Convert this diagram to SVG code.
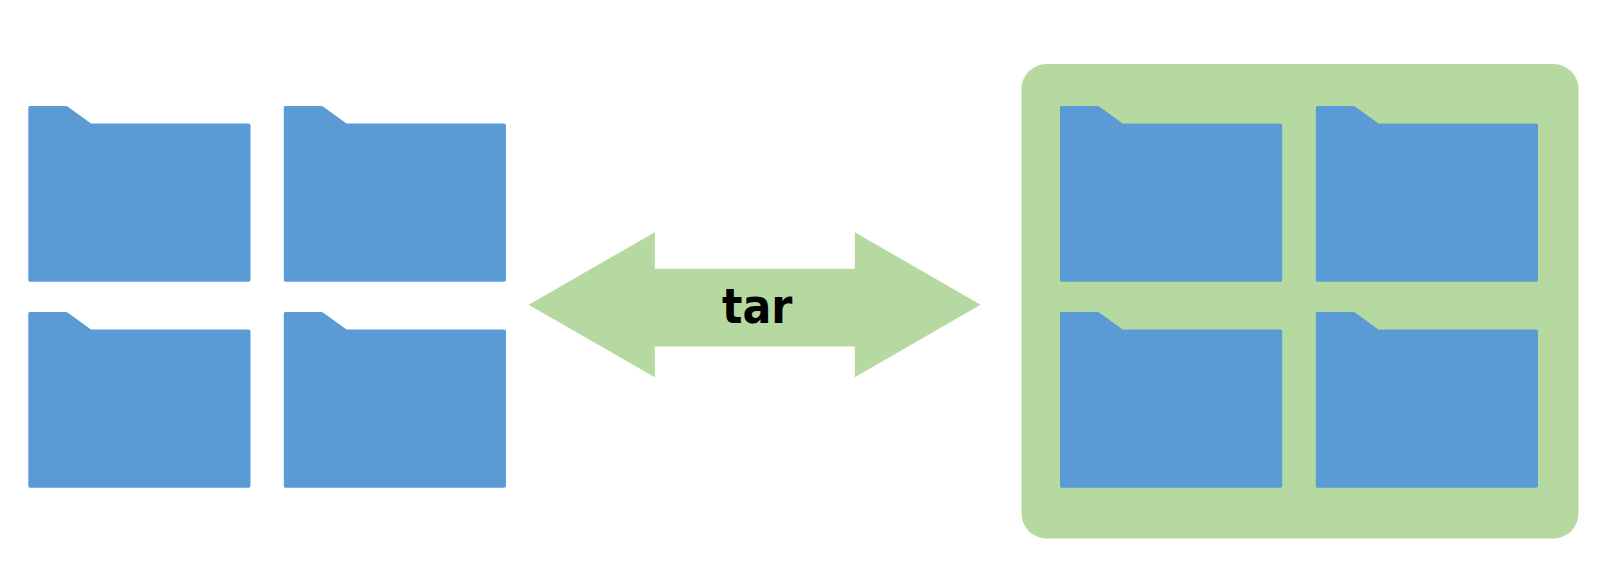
<svg xmlns="http://www.w3.org/2000/svg" xmlns:xlink="http://www.w3.org/1999/xlink" width="1600" height="582" viewBox="0 0 1600 582">
<style>
.folder{fill:#5b9bd5}
.green{fill:#b6d9a1}
.label{font-family:"DejaVu Sans",sans-serif;font-stretch:condensed;font-weight:700;font-size:47.500px;fill:#000}
</style>
<defs>
<path id="f" d="M29.800 106H65.500Q66.700 106 67.500 106.600L91 123.400H248.500Q250.500 123.400 250.500 125.400V279.700Q250.500 281.700 248.500 281.700H29.800Q28.300 281.700 28.300 279.700V107.500Q28.300 106 29.800 106Z"/>
</defs>
<rect width="1600" height="582" fill="#fff"/>
<g id="archive"><rect class="green" x="1021.500" y="64" width="557" height="474.500" rx="25" ry="25"/></g>
<g id="folder-1"><use class="folder" xlink:href="#f" href="#f"/></g>
<g id="folder-2"><use class="folder" xlink:href="#f" href="#f" x="255.500"/></g>
<g id="folder-3"><use class="folder" xlink:href="#f" href="#f" y="206"/></g>
<g id="folder-4"><use class="folder" xlink:href="#f" href="#f" x="255.500" y="206"/></g>
<g id="folder-5"><use class="folder" xlink:href="#f" href="#f" x="1031.700"/></g>
<g id="folder-6"><use class="folder" xlink:href="#f" href="#f" x="1287.500"/></g>
<g id="folder-7"><use class="folder" xlink:href="#f" href="#f" x="1031.700" y="206"/></g>
<g id="folder-8"><use class="folder" xlink:href="#f" href="#f" x="1287.500" y="206"/></g>
<g id="connectors"><polygon class="green" points="528.600,304.800 654.800,232.200 654.800,268.800 854.800,268.800 854.800,232.200 980.600,304.800 854.800,377.200 854.800,346.600 654.800,346.600 654.800,377.200"/></g>
<g id="tar-label"><text class="label" x="757.200" y="322.700" text-anchor="middle">tar</text></g>
</svg>
